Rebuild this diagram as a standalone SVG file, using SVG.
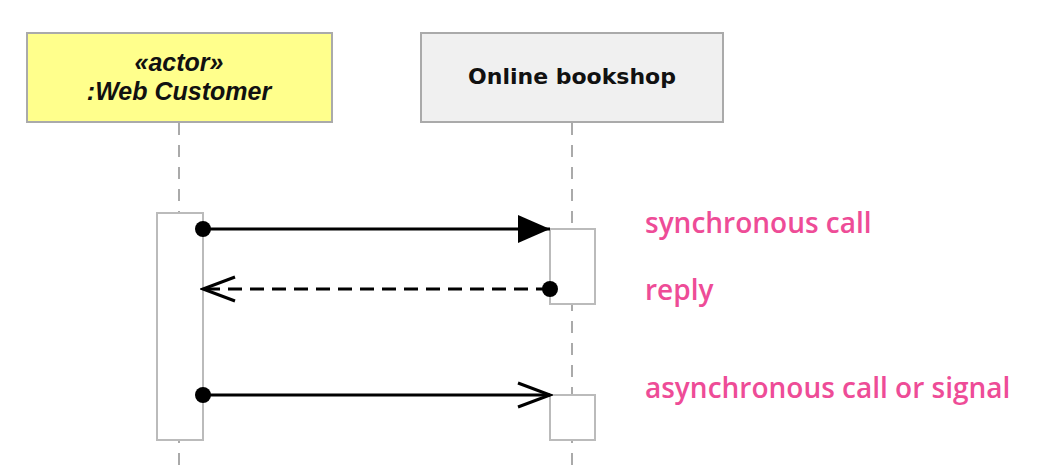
<svg xmlns="http://www.w3.org/2000/svg" width="1052" height="472" viewBox="0 0 1052 472">
<style>
.head{stroke:#aaaaaa;stroke-width:2}
.life{stroke:#aaaaaa;stroke-width:2;stroke-dasharray:12 10;fill:none}
.act{fill:#ffffff;stroke:#bbbbbb;stroke-width:2}
.msg{stroke:#000;stroke-width:3;fill:none}
.lbl{font-family:"Open Sans",sans-serif;font-size:28px;font-weight:600;fill:#ee4c97}
.atxt{font-family:"Liberation Sans",Arial,sans-serif;font-weight:bold;font-style:italic;font-size:25px;fill:#111;text-anchor:middle}
.htxt{font-family:"DejaVu Sans",sans-serif;font-weight:bold;font-size:22px;fill:#111;text-anchor:middle}
</style>
<defs>
<marker id="filled" markerWidth="34" markerHeight="28" refX="32" refY="14" orient="auto" markerUnits="userSpaceOnUse">
<path d="M0,0 L32,14 L0,28 Z" fill="#000"/>
</marker>
<marker id="open" markerWidth="36" markerHeight="28" refX="33" refY="14" orient="auto" markerUnits="userSpaceOnUse">
<path d="M1,2 L33,14 L1,26" fill="none" stroke="#000" stroke-width="3"/>
</marker>
</defs>
<rect width="1052" height="472" fill="#ffffff"/>
<g id="lifelines">
<line class="life" x1="179" y1="123" x2="179" y2="472"/>
<line class="life" x1="572" y1="123" x2="572" y2="472"/>
</g>
<g id="customer">
<rect x="27" y="33" width="305" height="89" fill="#ffff8c" class="head"/>
<text class="atxt" x="179" y="71">«actor»</text>
<text class="atxt" x="179" y="100">:Web Customer</text>
<rect class="act" x="157" y="213" width="46" height="227"/>
</g>
<g id="bookshop">
<rect x="421" y="33" width="302" height="89" fill="#f0f0f0" class="head"/>
<text class="htxt" x="572" y="84">Online bookshop</text>
<rect class="act" x="550" y="229" width="45" height="75"/>
<rect class="act" x="550" y="395" width="45" height="45"/>
</g>
<g id="connectors">
<line class="msg" x1="203" y1="229" x2="550" y2="229" marker-end="url(#filled)"/>
<circle cx="203" cy="229" r="8"/>
<line class="msg" x1="550" y1="289" x2="203" y2="289" stroke-dasharray="14 8" marker-end="url(#open)"/>
<circle cx="550" cy="289" r="8"/>
<line class="msg" x1="203" y1="395" x2="550" y2="395" marker-end="url(#open)"/>
<circle cx="203" cy="395" r="8"/>
</g>
<g id="labels">
<text class="lbl" x="645" y="233">synchronous call</text>
<text class="lbl" x="645" y="300">reply</text>
<text class="lbl" x="645" y="398">asynchronous call or signal</text>
</g>
</svg>
